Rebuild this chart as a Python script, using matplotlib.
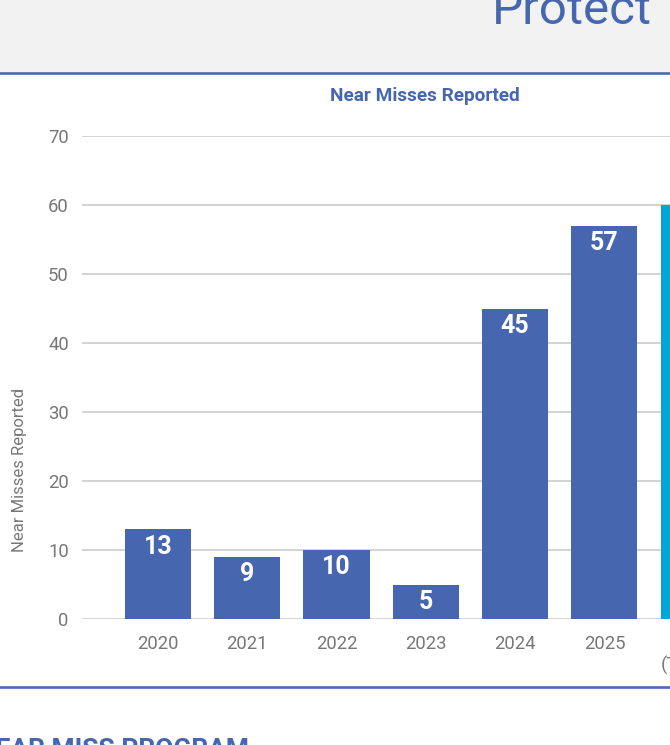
import matplotlib.pyplot as plt
from matplotlib.patches import Rectangle
from matplotlib.lines import Line2D

plt.rcParams["font.family"] = ["Roboto", "DejaVu Sans"]

# data
categories = ["2020", "2021", "2022", "2023", "2024", "2025", "2026\n(Target)"]
values = [13, 9, 10, 5, 45, 57, 60]
bar_colors = ["#4666b0"] * 6 + ["#00a6d6"]
y_ticks = [0, 10, 20, 30, 40, 50, 60, 70]

W, H = 670, 745
BLUE = "#4666b0"
GREY_TXT = "#777777"

fig = plt.figure(figsize=(W / 100, H / 100), dpi=100)
fig.patch.set_facecolor("white")

# page chrome: grey header band and blue rules
fig.patches.append(Rectangle((0, (H - 73) / H), 1, 73 / H, transform=fig.transFigure,
                             facecolor="#f2f2f2", edgecolor="none", zorder=0))
for y in (73, 687):
    fig.add_artist(Line2D([0, 1], [(H - y) / H] * 2, transform=fig.transFigure,
                          color="#4a6ab5", lw=1.9))
fig.text(652 / W, (H - 24) / H, "Protect", ha="right", va="baseline",
         fontsize=35.5, color=BLUE)
fig.text(-0.035, (H - 738) / H, "NEAR MISS PROGRAM", ha="left", va="top",
         fontsize=19, color=BLUE, fontweight="bold")

# plot area: x from -0.85 to 6.6, pixel scale ~89.3 px per bar slot
left_px, bottom_px, top_px = 82, 619, 136
ax = fig.add_axes([left_px / W, (H - bottom_px) / H, 7.45 * 89.3 / W, (bottom_px - top_px) / H])
ax.set_facecolor("none")
ax.set_xlim(-0.85, 6.6)
ax.set_ylim(0, 70)

x = list(range(len(categories)))
ax.bar(x, values, width=0.74, color=bar_colors, zorder=3)
for xi, v in zip(x, values):
    ax.annotate(str(v), (xi, v), xytext=(0, -12.5), textcoords="offset points",
                ha="center", va="center", color="white", fontsize=18,
                fontweight="bold", zorder=4)

ax.set_xticks(x)
ax.set_xticklabels(categories)
ax.set_yticks(y_ticks)
ax.tick_params(axis="both", length=0, labelsize=13.3, labelcolor=GREY_TXT)
ax.tick_params(axis="x", pad=11.5)
ax.tick_params(axis="y", pad=9.5)
for lab in ax.get_xticklabels():
    lab.set_linespacing(1.2)
ax.grid(axis="y", color="#c8c8c8", lw=1.1, zorder=0)
for s in ax.spines.values():
    s.set_visible(False)

fig.text(425 / W, (H - 96) / H, "Near Misses Reported", ha="center", va="center",
         fontsize=13.7, fontweight="bold", color=BLUE)
fig.text(20 / W, (H - 470) / H, "Near Misses Reported", ha="center", va="center",
         rotation=90, fontsize=12, color=GREY_TXT)

fig.savefig("out.png", dpi=100)
